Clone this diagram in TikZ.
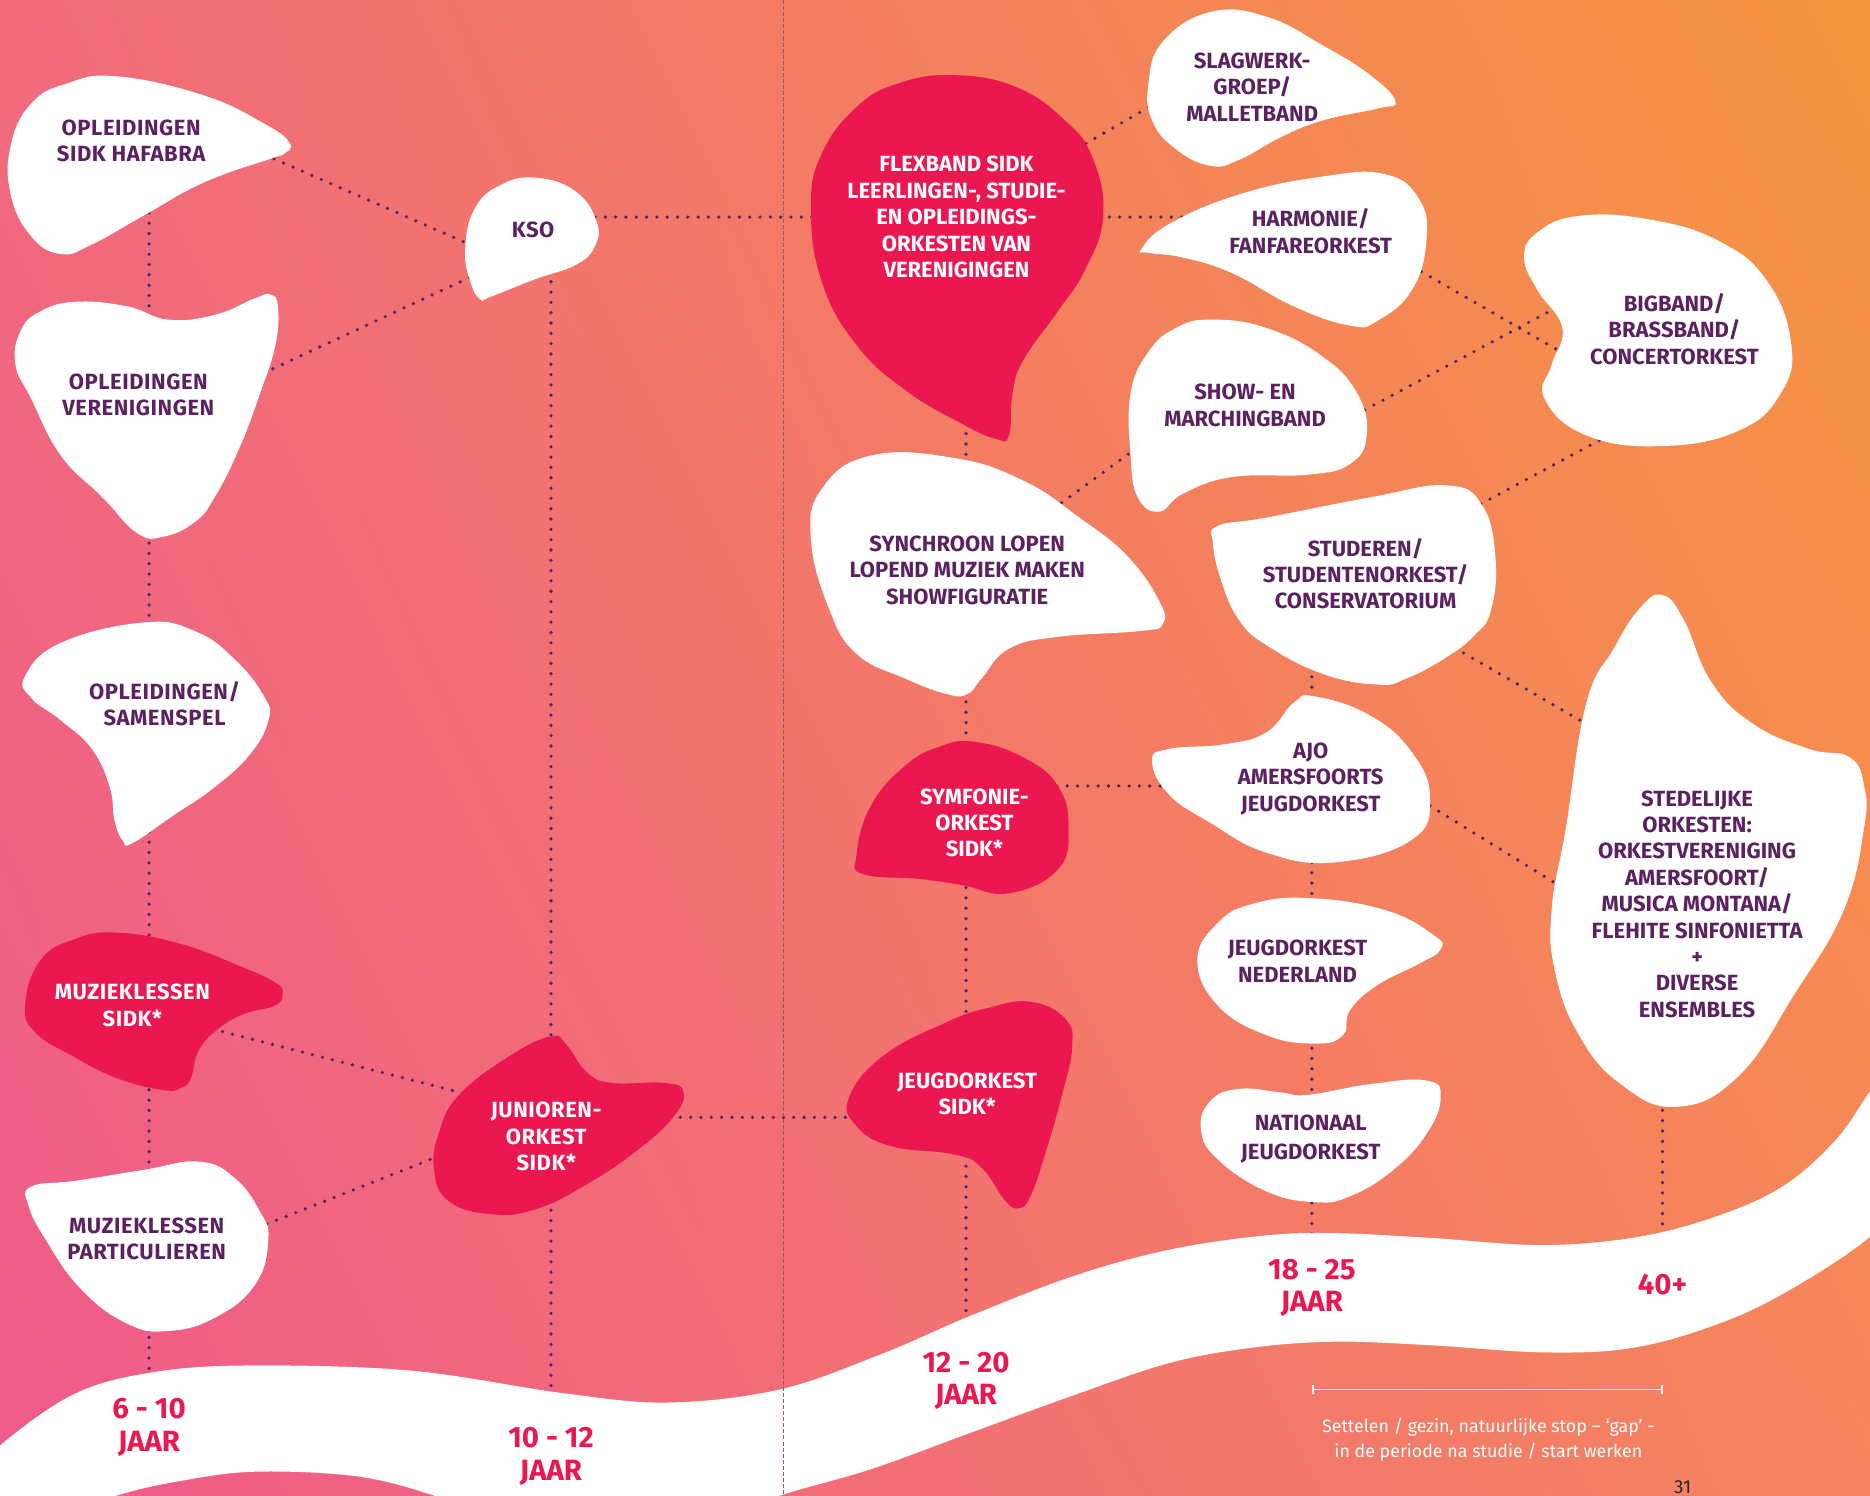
\documentclass[tikz,border=0pt]{standalone}
\usepackage{fontspec}
\setmainfont{Fira Sans}
\newfontfamily\widefont[LetterSpace=2.5]{Fira Sans}
\usepackage{tikz}
\usetikzlibrary{arrows.meta, shadings}
\definecolor{bgtl}{HTML}{F06B7C}
\definecolor{bgtr}{HTML}{F7963F}
\definecolor{bgbl}{HTML}{EF5A8B}
\definecolor{bgbr}{HTML}{F5855E}
\definecolor{blobred}{HTML}{EB1751}
\definecolor{blobtext}{HTML}{5B2160}
\definecolor{dotpurple}{HTML}{4E2366}
\definecolor{foldgray}{HTML}{8E5A60}
\pgfdeclarelayer{back}
\pgfdeclarelayer{links}
\pgfdeclarelayer{band}
\pgfsetlayers{back,links,band,main}

\begin{document}
\begin{tikzpicture}[x=0.2mm, y=-0.2mm,
        lefttext/.style={align=center, inner sep=1pt, text=blobtext, font=\widefont\bfseries\fontsize{10.5}{12.6}\selectfont},
        righttext/.style={lefttext, font=\bfseries\fontsize{10.5}{12.6}\selectfont},
        onred/.style={text=white},
        whiteblob/.style={fill=white},
        redblob/.style={fill=blobred},
        link/.style={draw=dotpurple, line width=0.6mm, line cap=round, dash pattern=on 0pt off 1.73mm},
        agelabel/.style={align=center, inner sep=0pt, text=blobred, font=\bfseries\fontsize{14}{15.5}\selectfont},
        fold/.style={draw=foldgray, line width=0.22mm, dash pattern=on 0.68mm off 0.34mm}]

        \useasboundingbox (0, 0) rectangle (1568, 1254);

        \begin{pgfonlayer}{back}
            \shade[upper left=bgtl, upper right=bgtr, lower left=bgbl, lower right=bgbr] (0, 0) rectangle (1568, 1254);
        \end{pgfonlayer}

        \begin{pgfonlayer}{band}
            \fill[white] plot[smooth, tension=0.6] coordinates {(-30, 1245) (0, 1212) (60, 1170) (120, 1152) (201, 1145) (342, 1149) (471, 1168) (560, 1176) (654, 1165) (740, 1135) (812, 1104) (900, 1070) (980, 1048) (1060, 1036) (1120, 1034) (1200, 1038) (1296, 1044) (1380, 1036) (1450, 1016) (1499, 992) (1540, 955) (1568, 915) (1600, 870)}
                -- plot[smooth, tension=0.6] coordinates {(1610, 990) (1568, 1037) (1500, 1082) (1441, 1110) (1370, 1130) (1296, 1134) (1200, 1128) (1120, 1125) (1050, 1130) (980, 1143) (900, 1170) (812, 1202) (730, 1232) (654, 1254) (600, 1275) (500, 1292) (420, 1275) (364, 1254) (300, 1238) (214, 1234) (150, 1242) (98, 1254) (40, 1275) (-30, 1300)} -- cycle;
        \end{pgfonlayer}

        \begin{scope}
            \fill[whiteblob] plot[smooth cycle, tension=0.75] coordinates {(98, 64) (171, 80) (222, 104) (243, 120) (238, 129) (227, 133) (171, 153) (120, 181) (77, 205) (51, 213) (26, 198) (9, 163) (9, 122) (26, 87) (56, 70)};
            \node (hafabra) at (110, 118)[lefttext] {OPLEIDINGEN\\SIDK HAFABRA};

            \fill[whiteblob] plot[smooth cycle, tension=0.75] coordinates {(449, 149) (482, 160) (500, 185) (499, 206) (483, 222) (449, 234) (411, 249) (403, 251) (395, 238) (390, 210) (398, 175) (420, 155)};
            \node (kso) at (447, 193)[lefttext, minimum width=8.8mm, minimum height=10mm] {KSO};

            \fill[whiteblob] plot[smooth cycle, tension=0.75] coordinates {(17, 278) (34, 261) (64, 253) (107, 257) (141, 268) (180, 264) (214, 250) (227, 247) (233, 257) (231, 289) (218, 330) (201, 375) (180, 417) (163, 438) (137, 450) (115, 447) (86, 417) (51, 382) (26, 334) (13, 306)};
            \node (vereniging) at (116, 331)[lefttext] {OPLEIDINGEN\\VERENIGINGEN};

            \fill[whiteblob] plot[smooth cycle, tension=0.75] coordinates {(21, 567) (51, 539) (120, 522) (163, 529) (197, 553) (222, 585) (225, 604) (210, 632) (180, 660) (145, 684) (111, 707) (103, 705) (96, 688) (92, 660) (77, 628) (51, 604) (26, 585)};
            \node (samenspel) at (138, 590)[lefttext] {OPLEIDINGEN/\\SAMENSPEL};

            \fill[redblob] plot[smooth cycle, tension=0.75] coordinates {(21, 843) (34, 805) (64, 787) (98, 782) (150, 791) (201, 810) (231, 824) (237, 833) (231, 843) (205, 850) (184, 862) (167, 880) (160, 904) (152, 912) (137, 914) (98, 904) (60, 885) (30, 866)};
            \node (muziek) at (111, 843)[lefttext, onred] {MUZIEKLESSEN\\SIDK*};

            \fill[whiteblob] plot[smooth cycle, tension=0.75] coordinates {(26, 995) (64, 990) (120, 981) (167, 974) (197, 988) (218, 1016) (225, 1039) (214, 1077) (180, 1105) (141, 1116) (107, 1110) (68, 1081) (38, 1039) (24, 1011)};
            \node (particulier) at (123, 1039)[lefttext] {MUZIEKLESSEN\\PARTICULIEREN};

            \fill[redblob] plot[smooth cycle, tension=0.75] coordinates {(385, 918) (428, 885) (462, 869) (475, 876) (492, 899) (513, 908) (556, 908) (573, 915) (565, 936) (535, 964) (492, 993) (449, 1014) (411, 1018) (376, 1007) (364, 981) (368, 950)};
            \node (junioren) at (458, 953)[lefttext, onred] {JUNIOREN-\\ORKEST\\SIDK*};
        \end{scope}

        \begin{scope}
            \fill[redblob] plot[smooth cycle, tension=0.75] coordinates {(800, 63) (852, 73) (893, 101) (916, 132) (925, 181) (910, 226) (887, 261) (858, 302) (849, 330) (846, 365) (835, 368) (806, 355) (759, 327) (718, 289) (689, 236) (680, 174) (689, 129) (718, 90) (753, 70)};
            \node (flexband) at (802, 182)[righttext, onred] {FLEXBAND SIDK\\LEERLINGEN-, STUDIE-\\EN OPLEIDINGS-\\ORKESTEN VAN\\VERENIGINGEN};

            \fill[whiteblob] plot[smooth cycle, tension=0.75] coordinates {(1015, 10) (1062, 14) (1109, 38) (1149, 63) (1170, 85) (1155, 91) (1109, 101) (1074, 115) (1039, 134) (1015, 139) (986, 125) (966, 101) (963, 70) (975, 35)};
            \node (slagwerk) at (1050, 73)[righttext] {SLAGWERK-\\GROEP/\\MALLETBAND};

            \fill[whiteblob] plot[smooth cycle, tension=0.75] coordinates {(957, 209) (980, 188) (1039, 163) (1109, 148) (1161, 146) (1190, 167) (1196, 202) (1184, 243) (1155, 269) (1132, 273) (1085, 257) (1033, 229) (992, 216) (963, 212)};
            \node (harmonie) at (1099, 194)[righttext] {HARMONIE/\\FANFAREORKEST};

            \fill[whiteblob] plot[smooth cycle, tension=0.75] coordinates {(1324, 181) (1383, 184) (1441, 202) (1482, 236) (1502, 289) (1493, 330) (1458, 361) (1394, 374) (1330, 365) (1295, 334) (1301, 306) (1310, 275) (1289, 243) (1278, 216) (1289, 195)};
            \node (bigband) at (1404, 276)[righttext] {BIGBAND/\\BRASSBAND/\\CONCERTORKEST};

            \fill[whiteblob] plot[smooth cycle, tension=0.75] coordinates {(1015, 268) (1062, 275) (1109, 299) (1138, 330) (1146, 365) (1132, 389) (1097, 398) (1033, 400) (992, 414) (972, 429) (954, 417) (948, 382) (948, 330) (963, 295) (986, 275)};
            \node (show) at (1044, 340)[righttext] {SHOW- EN\\MARCHINGBAND};

            \fill[whiteblob] plot[smooth cycle, tension=0.75] coordinates {(730, 382) (800, 384) (858, 403) (905, 434) (945, 466) (972, 504) (975, 523) (957, 529) (887, 534) (846, 544) (823, 569) (811, 582) (794, 582) (759, 569) (718, 548) (695, 510) (680, 452) (689, 410)};
            \node (synchroon) at (811, 478)[righttext] {SYNCHROON LOPEN\\LOPEND MUZIEK MAKEN\\SHOWFIGURATIE};

            \fill[whiteblob] plot[smooth cycle, tension=0.75] coordinates {(1021, 441) (1062, 434) (1149, 417) (1213, 407) (1243, 424) (1254, 469) (1250, 512) (1237, 532) (1213, 551) (1179, 569) (1155, 574) (1109, 565) (1062, 541) (1039, 520) (1024, 487) (1017, 455)};
            \node (studeren) at (1145, 481)[righttext] {STUDEREN/\\STUDENTENORKEST/\\CONSERVATORIUM};

            \fill[whiteblob] plot[smooth cycle, tension=0.75] coordinates {(1394, 499) (1412, 520) (1435, 572) (1470, 607) (1517, 628) (1551, 635) (1563, 659) (1563, 694) (1546, 763) (1505, 833) (1458, 902) (1406, 928) (1359, 909) (1324, 868) (1304, 815) (1301, 763) (1313, 694) (1330, 590) (1353, 544) (1375, 510)};
            \node (stedelijk) at (1423, 758)[righttext] {STEDELIJKE\\ORKESTEN:\\ORKESTVERENIGING\\AMERSFOORT/\\MUSICA MONTANA/\\FLEHITE SINFONIETTA\\+\\DIVERSE\\ENSEMBLES};

            \fill[redblob] plot[smooth cycle, tension=0.75] coordinates {(817, 622) (858, 635) (887, 659) (896, 694) (887, 729) (846, 749) (806, 742) (771, 737) (724, 733) (718, 718) (730, 676) (759, 642) (788, 626)};
            \node (symfonie) at (817, 690)[righttext, onred] {SYMFONIE-\\ORKEST\\SIDK*};

            \fill[whiteblob] plot[smooth cycle, tension=0.75] coordinates {(1103, 584) (1149, 600) (1184, 631) (1199, 669) (1184, 704) (1120, 723) (1062, 715) (1015, 690) (980, 666) (966, 638) (980, 628) (1027, 624) (1062, 614) (1085, 589)};
            \node (ajo) at (1099, 653)[righttext] {AJO\\AMERSFOORTS\\JEUGDORKEST};

            \fill[whiteblob] plot[smooth cycle, tension=0.75] coordinates {(1097, 753) (1161, 763) (1202, 784) (1208, 796) (1190, 808) (1155, 826) (1132, 847) (1126, 868) (1103, 875) (1062, 868) (1021, 843) (1004, 805) (1021, 774) (1050, 758)};
            \node (jeugdnl) at (1088, 806)[righttext] {JEUGDORKEST\\NEDERLAND};

            \fill[redblob] plot[smooth cycle, tension=0.75] coordinates {(864, 840) (893, 854) (899, 878) (890, 920) (875, 972) (864, 1003) (855, 1013) (843, 1007) (823, 979) (800, 968) (747, 961) (718, 944) (712, 920) (741, 885) (794, 857) (829, 845)};
            \node (jeugdsidk) at (811, 917)[righttext, onred] {JEUGDORKEST\\SIDK*};

            \fill[whiteblob] plot[smooth cycle, tension=0.75] coordinates {(1039, 913) (1074, 916) (1097, 918) (1149, 909) (1196, 906) (1208, 920) (1196, 951) (1167, 982) (1132, 1003) (1103, 1008) (1062, 999) (1021, 972) (1007, 947) (1015, 923)};
            \node (nationaal) at (1099, 955)[righttext, font=\bfseries\fontsize{10.5}{13.5}\selectfont] {NATIONAAL\\JEUGDORKEST};
        \end{scope}

        \node (age6) at (125, 1197)[agelabel] {6 - 10\\JAAR};
        \node (age10) at (462, 1221)[agelabel] {10 - 12\\JAAR};
        \node (age12) at (810, 1158)[agelabel] {12 - 20\\JAAR};
        \node (age18) at (1100, 1080)[agelabel] {18 - 25\\JAAR};
        \node (age40) at (1394, 1077)[agelabel] {40+};

        \coordinate (gapbar) at (1248, 1165);
        \draw[white, line width=0.3mm, {Bar[width=1.6mm]}-{Bar[width=1.6mm]}] (gapbar -| age18) -- (gapbar -| age40);

        \node (gapnote) at (1248, 1207)[align=center, inner sep=0pt, text=white, font=\fontsize{8.5}{12}\selectfont] {Settelen / gezin, natuurlijke stop – ‘gap’ -\\in de periode na studie / start werken};

        \node (pagenum) at (1411, 1253)[anchor=south, inner sep=0pt, text=black!85, font=\fontsize{9}{11}\selectfont] {31};

        \begin{pgfonlayer}{links}
            \draw[link] (hafabra -| age6) -- (vereniging -| age6) -- (samenspel -| age6) -- (muziek -| age6) -- (particulier -| age6) -- (age6);
            \draw[link] (kso -| age10) -- (junioren -| age10) -- (age10);
            \draw[link] (flexband -| age12) -- (synchroon -| age12) -- (symfonie -| age12) -- (jeugdsidk -| age12) -- (age12);
            \draw[link] (studeren -| age18) -- (ajo -| age18) -- (jeugdnl -| age18) -- (nationaal -| age18) -- (age18);
            \draw[link] (stedelijk -| age40) -- (age40);

            \draw[link] (flexband -| kso) -- (flexband) -- (flexband -| harmonie);
            \draw[link] (jeugdsidk.south -| junioren) -- (jeugdsidk.south);
            \draw[link] (symfonie.north) -- (symfonie.north -| ajo);

            \draw[link] (hafabra.8) -- (kso.south west);
            \draw[link] (vereniging.east) -- (kso.south west);
            \draw[link] (muziek.south east) -- (junioren.north west);
            \draw[link] (particulier.east) -- (junioren.west);
            \draw[link] (flexband.north east) -- (slagwerk.west);
            \draw[link] (synchroon.35) -- (show.196);
            \draw[link] (show.south east) -- (bigband.north west);
            \draw[link] (harmonie.south east) -- (bigband.south west);
            \draw[link] (bigband.-32) -- (studeren.34);
            \draw[link] (studeren.-55) -- (stedelijk.north);
            \draw[link] (ajo.east) -- (stedelijk.west);
        \end{pgfonlayer}

        \coordinate (foldtop) at (657, 0);
        \coordinate (foldbottom) at (657, 1254);
        \draw[fold] (foldtop) -- (foldbottom);
    \end{tikzpicture}
\end{document}
